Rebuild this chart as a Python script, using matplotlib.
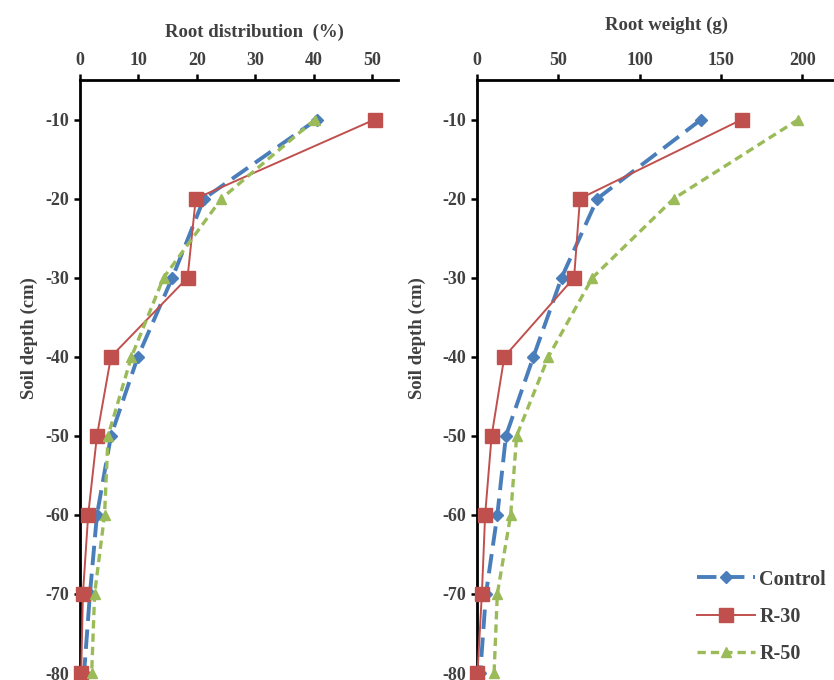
import matplotlib
matplotlib.use("Agg")
import matplotlib.pyplot as plt

depth = [-10, -20, -30, -40, -50, -60, -70, -80]
series = ["Control", "R-30", "R-50"]

dist_control = [40.5, 21.2, 15.8, 9.9, 5.3, 2.9, 1.7, 0.7]
dist_r30 = [50.4, 19.8, 18.4, 5.3, 2.9, 1.4, 0.5, 0.2]
dist_r50 = [40.2, 24.2, 14.3, 8.8, 4.8, 4.2, 2.5, 2.0]

wt_control = [137.8, 74.0, 52.0, 34.7, 17.8, 12.5, 5.5, 2.0]
wt_r30 = [162.8, 63.3, 59.7, 16.8, 9.0, 5.0, 3.0, 0.3]
wt_r50 = [197.6, 121.0, 71.0, 43.9, 24.4, 20.7, 12.5, 10.5]

dist_ticks = [0, 10, 20, 30, 40, 50]
wt_ticks = [0, 50, 100, 150, 200]
depth_ticks = [-10, -20, -30, -40, -50, -60, -70, -80]

colors = {"Control": "#4A7EBB", "R-30": "#C0504D", "R-50": "#9BBB59"}
styles = {
    "Control": dict(linestyle=(0, (5, 2.2)), linewidth=2.8, marker="D", markersize=6),
    "R-30": dict(linestyle="-", linewidth=1.4, marker="s", markersize=10),
    "R-50": dict(linestyle=(0, (2.5, 1.5)), linewidth=2.4, marker="^", markersize=7),
}

plt.rcParams["font.family"] = ["Liberation Serif", "DejaVu Serif"]
plt.rcParams["font.weight"] = "bold"
txt_color = "#404040"

fig = plt.figure(figsize=(8.34, 6.8), dpi=100)
W, H = 834, 680
ax1 = fig.add_axes([80 / W, 1 - 673 / H, (398 - 80) / W, (673 - 80) / H])
ax2 = fig.add_axes([477 / W, 1 - 673 / H, (834 - 477) / W, (673 - 80) / H])

data = [
    (ax1, [dist_control, dist_r30, dist_r50], dist_ticks, (0, 54.4), "Root distribution  (%)"),
    (ax2, [wt_control, wt_r30, wt_r50], wt_ticks, (0, 219.5), "Root weight (g)"),
]

for ax, vals, xt, xl, xlabel in data:
    for name, v in zip(series, vals):
        ax.plot(v, depth, color=colors[name], label=name, clip_on=False,
                markeredgecolor=colors[name], zorder=3, **styles[name])
    ax.set_xlim(*xl)
    ax.set_ylim(-80, -5)
    ax.xaxis.tick_top()
    ax.xaxis.set_label_position("top")
    ax.set_xticks(xt)
    ax.set_yticks(depth_ticks)
    ax.set_yticklabels([str(d) for d in depth_ticks])
    for s in ["right", "bottom"]:
        ax.spines[s].set_visible(False)
    for s in ["top", "left"]:
        ax.spines[s].set_linewidth(2.0)
        ax.spines[s].set_color("black")
    ax.tick_params(direction="out", length=4, width=1.8, labelsize=13,
                   labelcolor=txt_color, pad=4)
    ax.set_xlabel(xlabel, fontsize=13.5, fontweight="bold", color=txt_color)
    ax.set_ylabel("Soil depth (cm)", fontsize=13.5, fontweight="bold", color=txt_color)

ax1.xaxis.set_label_coords(0.55, 1.0 + 43 / 593)
ax2.xaxis.set_label_coords(0.53, 1.0 + 50 / 593)
ax1.yaxis.set_label_coords((38 - 80) / (398 - 80), 0.565)
ax2.yaxis.set_label_coords((426 - 477) / (834 - 477), 0.565)

leg = ax2.legend(loc="lower right", bbox_to_anchor=(1.0, 0.002), frameon=False,
                 fontsize=14.5, handlelength=2.9, labelspacing=0.85, handletextpad=0.2,
                 borderaxespad=0.0)
for t in leg.get_texts():
    t.set_color(txt_color)
    t.set_fontweight("bold")

fig.savefig("out.png", dpi=100)
